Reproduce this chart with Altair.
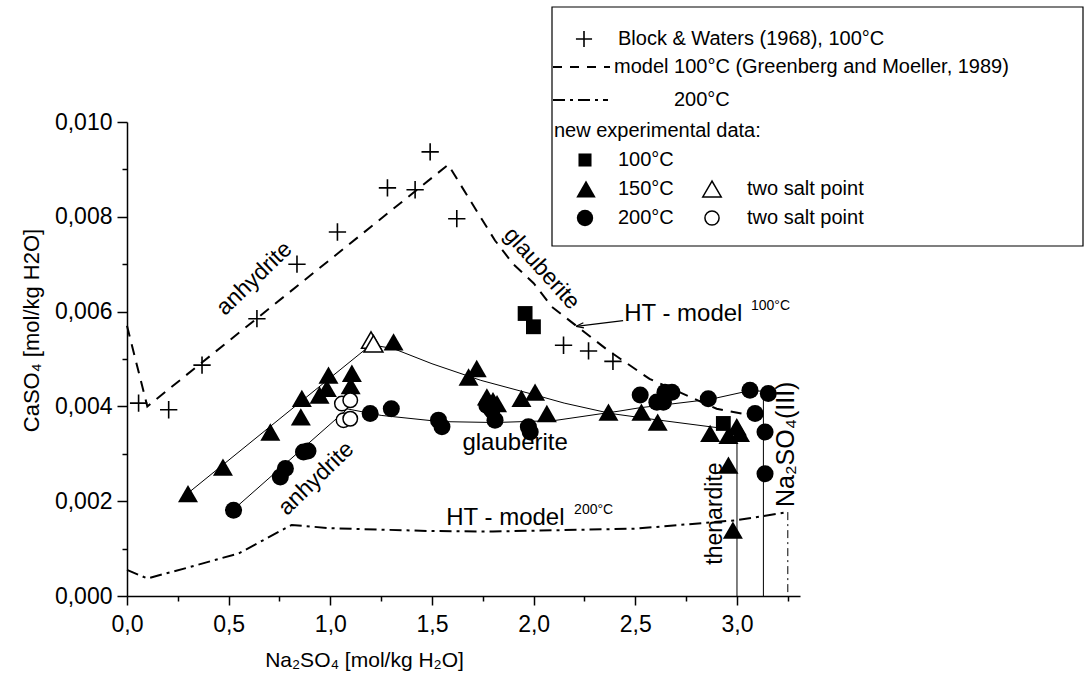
import altair as alt
import pandas as pd

FONT = "Liberation Sans"

# ---------------- data ----------------
# Block & Waters (1968), 100 °C
bw_x = [0.057, 0.205, 0.369, 0.639, 0.836, 1.035, 1.281, 1.417, 1.491, 1.622, 2.147, 2.270, 2.390]
bw_y = [0.00407, 0.00393, 0.00487, 0.00585, 0.00700, 0.00768, 0.00861, 0.00857, 0.00937, 0.00796,
        0.00529, 0.00517, 0.00495]

# model 100 °C (Greenberg and Moeller, 1989)
m100_x = [0.0, 0.10, 1.58, 1.68, 1.81, 1.90, 2.00, 2.09, 2.21, 2.36, 2.57, 2.77, 2.90, 3.08]
m100_y = [0.0057, 0.0040, 0.0091, 0.0084, 0.0075, 0.0070, 0.0066, 0.0061, 0.0057, 0.0052,
          0.00458, 0.0042, 0.00395, 0.0038]

# model 200 °C
m200_x = [0.0, 0.10, 0.30, 0.55, 0.81, 1.00, 1.50, 1.80, 2.50, 3.00, 3.25]
m200_y = [0.00055, 0.00037, 0.00060, 0.00090, 0.00150, 0.00143, 0.00137, 0.00136, 0.00142,
          0.00160, 0.00177]
m200_end_x = [3.25, 3.25]
m200_end_y = [0.00177, 0.0]

# new experimental data, 100 °C
e100_x = [1.958, 1.999, 2.933]
e100_y = [0.00596, 0.00568, 0.00364]

# 150 °C
e150_x = [0.300, 0.472, 0.705, 0.855, 0.860, 0.947, 0.983, 0.991, 1.100, 1.106, 1.311, 1.680,
          1.720, 1.770, 1.800, 1.820, 1.940, 2.007, 2.065, 2.368, 2.530, 2.610, 2.868, 2.958,
          2.999, 3.015, 2.958, 2.980]
e150_y = [0.00216, 0.00272, 0.00346, 0.00378, 0.00417, 0.00424, 0.00438, 0.00466, 0.00444,
          0.00470, 0.00536, 0.00462, 0.00480, 0.00420, 0.00412, 0.00406, 0.00417, 0.00430,
          0.00385, 0.00388, 0.00388, 0.00367, 0.00343, 0.00339, 0.00357, 0.00343, 0.00276,
          0.00139]
e150_two_x = [1.200, 1.212]
e150_two_y = [0.00540, 0.00532]

# 200 °C
e200_x = [0.524, 0.754, 0.779, 0.868, 0.890, 1.196, 1.300, 1.532, 1.549, 1.770, 1.795, 1.810,
          1.974, 1.983, 2.524, 2.606, 2.638, 2.646, 2.680, 2.859, 3.064, 3.154, 3.089, 3.138,
          3.138]
e200_y = [0.00181, 0.00251, 0.00269, 0.00304, 0.00306, 0.00385, 0.00395, 0.00371, 0.00357,
          0.00402, 0.00392, 0.00371, 0.00357, 0.00346, 0.00424, 0.00409, 0.00409, 0.00430,
          0.00430, 0.00416, 0.00434, 0.00427, 0.00385, 0.00346, 0.00258]
e200_two_x = [1.057, 1.098, 1.065, 1.098]
e200_two_y = [0.00406, 0.00413, 0.00371, 0.00374]

# fitted lines through the experimental data
l150a_x = [0.30, 1.20]
l150a_y = [0.00217, 0.00530]
l150g_x = [1.20, 1.31, 1.50, 1.74, 2.00, 2.15, 2.38, 2.60, 2.87, 3.00]
l150g_y = [0.00530, 0.00522, 0.00490, 0.00455, 0.00425, 0.00407, 0.00385, 0.00372, 0.00357, 0.00350]
l150v_x = [3.00, 3.00]
l150v_y = [0.00350, 0.0]
l200a_x = [0.52, 1.08]
l200a_y = [0.00181, 0.00393]
l200g_x = [1.08, 1.25, 1.54, 1.81, 2.10, 2.42, 2.52, 2.87, 3.06, 3.13]
l200g_y = [0.00395, 0.00381, 0.00368, 0.00366, 0.00370, 0.00390, 0.00397, 0.00415, 0.00433, 0.00432]
l200v_x = [3.13, 3.13]
l200v_y = [0.00432, 0.0]

# arrow "HT - model 100°C"
arrow_x = [2.440, 2.209]
arrow_y = [0.00581, 0.00569]

x_tick_values = [0.0, 0.25, 0.5, 0.75, 1.0, 1.25, 1.5, 1.75, 2.0, 2.25, 2.5, 2.75, 3.0, 3.25]
y_tick_values = [0.0, 0.001, 0.002, 0.003, 0.004, 0.005, 0.006, 0.007, 0.008, 0.009, 0.010]


def frame(xs, ys):
    return pd.DataFrame({"x": xs, "y": ys, "i": list(range(len(xs)))})


xscale = alt.Scale(domain=[0, 3.31], nice=False, zero=False)
yscale = alt.Scale(domain=[0, 0.010], nice=False, zero=False)

xaxis = alt.Axis(
    values=x_tick_values,
    labelExpr="abs(datum.value*2 - round(datum.value*2)) < 0.001 ? replace(format(datum.value, '.1f'), '.', ',') : ''",
    tickSize={"condition": {"test": "abs(datum.value*2 - round(datum.value*2)) < 0.001", "value": 9}, "value": 5},
    labelFontSize=23, labelFont=FONT, labelColor="black", labelPadding=8,
    domainColor="black", domainWidth=1.5, tickColor="black", tickWidth=1.5,
    grid=False, labelFlush=False, labelOverlap=False,
    titleFont=FONT, titleFontSize=21, titleFontWeight="normal", titleColor="black",
    titleX=237, titleY=64, titleBaseline="middle", titleAlign="center",
)
yaxis = alt.Axis(
    values=y_tick_values,
    labelExpr="abs(datum.value*500 - round(datum.value*500)) < 0.001 ? replace(format(datum.value, '.3f'), '.', ',') : ''",
    tickSize={"condition": {"test": "abs(datum.value*500 - round(datum.value*500)) < 0.001", "value": 10}, "value": 5},
    labelFontSize=23, labelFont=FONT, labelColor="black", labelPadding=5,
    domainColor="black", domainWidth=1.5, tickColor="black", tickWidth=1.5,
    grid=False, labelFlush=False, labelOverlap=False,
    titleFont=FONT, titleFontSize=22, titleFontWeight="normal", titleColor="black",
    titleX=-96, titleY=208, titleBaseline="middle", titleAlign="center", titleAngle=270,
)

X = alt.X("x:Q", scale=xscale, axis=xaxis, title="Na₂SO₄ [mol/kg H₂O]")
Y = alt.Y("y:Q", scale=yscale, axis=yaxis, title="CaSO₄ [mol/kg H2O]")


def line(xs, ys, width=1.0, dash=None):
    kw = dict(color="black", strokeWidth=width, clip=False)
    if dash:
        kw["strokeDash"] = dash
    return alt.Chart(frame(xs, ys)).mark_line(**kw).encode(x=X, y=Y, order="i:Q")


def points(xs, ys, shape, size, filled=True, stroke_width=1.5):
    if filled:
        m = alt.Chart(frame(xs, ys)).mark_point(shape=shape, size=size, filled=True, color="black",
                                                opacity=1, clip=False)
    else:
        m = alt.Chart(frame(xs, ys)).mark_point(shape=shape, size=size, filled=False, fill="white",
                                                fillOpacity=1, stroke="black", strokeWidth=stroke_width,
                                                opacity=1, clip=False)
    return m.encode(x=X, y=Y)


def note(txt, x, y, size=24, angle=0):
    return alt.Chart(frame([x], [y])).mark_text(
        text=txt, font=FONT, fontSize=size, angle=angle, align="center", baseline="middle",
        color="black").encode(x=X, y=Y)


CROSS = "M-1,0L1,0M0,-1L0,1"
ARROWHEAD = "M0,0L1.6,-0.55M0,0L1.6,0.55"

layers = [
    line(m200_x, m200_y, 2.0, [12, 5, 3, 5]),
    line(m200_end_x, m200_end_y, 1.0, [8, 4, 2, 4]),
    line(m100_x, m100_y, 2.0, [11, 8]),
    line(l150a_x, l150a_y), line(l150g_x, l150g_y), line(l150v_x, l150v_y),
    line(l200a_x, l200a_y), line(l200g_x, l200g_y), line(l200v_x, l200v_y),
    line(arrow_x, arrow_y, 1.2),
    alt.Chart(frame(arrow_x[1:], arrow_y[1:])).mark_point(
        shape=ARROWHEAD, size=90, filled=False, stroke="black", strokeWidth=1.2, angle=353,
        opacity=1).encode(x=X, y=Y),
    points(bw_x, bw_y, CROSS, 300, filled=False, stroke_width=1.6),
    points(e100_x, e100_y, "square", 220),
    points(e150_x, e150_y, "triangle-up", 400),
    points(e200_x, e200_y, "circle", 290),
    points(e150_two_x, e150_two_y, "triangle-up", 360, filled=False),
    points(e200_two_x, e200_two_y, "circle", 210, filled=False),
    note("anhydrite", 0.626, 0.00670, 23, 316),
    note("glauberite", 2.04, 0.00691, 23, 48),
    note("HT - model", 2.736, 0.00594, 24),
    note("100°C", 3.165, 0.00611, 14),
    note("glauberite", 1.909, 0.00322, 24),
    note("anhydrite", 0.93, 0.00248, 23, 316),
    note("HT - model", 1.861, 0.00164, 24),
    note("200°C", 2.295, 0.00181, 14),
    note("thenardite", 2.893, 0.00174, 23, 270),
    note("Na₂SO₄(III)", 3.24, 0.00320, 25, 270),
]

# ---------------- legend box (pixel positions relative to plot origin) ----------------
one = pd.DataFrame({"a": [0]})
LFS = 20


def ptext(txt, x, y, size=LFS, align="left"):
    return alt.Chart(one).mark_text(text=txt, font=FONT, fontSize=size, align=align,
                                    baseline="middle", color="black").encode(
        x=alt.value(x), y=alt.value(y))


def psym(shape, x, y, size, filled=True):
    if filled:
        m = alt.Chart(one).mark_point(shape=shape, size=size, filled=True, color="black", opacity=1)
    else:
        m = alt.Chart(one).mark_point(shape=shape, size=size, filled=False, fill="white",
                                      fillOpacity=1, stroke="black", strokeWidth=1.5, opacity=1)
    return m.encode(x=alt.value(x), y=alt.value(y))


def pline(x1, x2, y, dash):
    return alt.Chart(one).mark_rule(color="black", strokeWidth=2, strokeDash=dash).encode(
        x=alt.value(x1), x2=alt.value(x2), y=alt.value(y))


legend = [
    alt.Chart(one).mark_rect(fill="white", stroke="black", strokeWidth=1.2).encode(
        x=alt.value(425), x2=alt.value(956), y=alt.value(-115), y2=alt.value(124)),
    alt.Chart(one).mark_point(shape=CROSS, size=260, filled=False, stroke="black",
                              strokeWidth=1.6, opacity=1).encode(x=alt.value(457), y=alt.value(-83)),
    ptext("Block & Waters (1968), 100°C", 491, -83),
    pline(426, 483, -55, [9, 8]),
    ptext("model 100°C (Greenberg and Moeller, 1989)", 487, -55),
    pline(426, 481, -22, [12, 5, 3, 5]),
    ptext("200°C", 547, -22),
    ptext("new experimental data:", 427, 9),
    psym("square", 458, 38, 170),
    ptext("100°C", 491, 38),
    psym("triangle-up", 459, 67, 380),
    ptext("150°C", 491, 67),
    psym("triangle-up", 585, 67, 340, filled=False),
    ptext("two salt point", 620, 67),
    psym("circle", 458, 96, 270),
    ptext("200°C", 491, 96),
    psym("circle", 585, 96, 200, filled=False),
    ptext("two salt point", 620, 96),
]

chart = alt.layer(*layers, *legend).properties(
    width=673, height=474,
    autosize=alt.AutoSizeParams(type="none"),
    padding={"left": 127, "top": 122, "right": 286, "bottom": 86},
    background="white",
).configure_view(stroke=None)

chart.save("out.html", embed_options={"renderer": "svg", "actions": False})
